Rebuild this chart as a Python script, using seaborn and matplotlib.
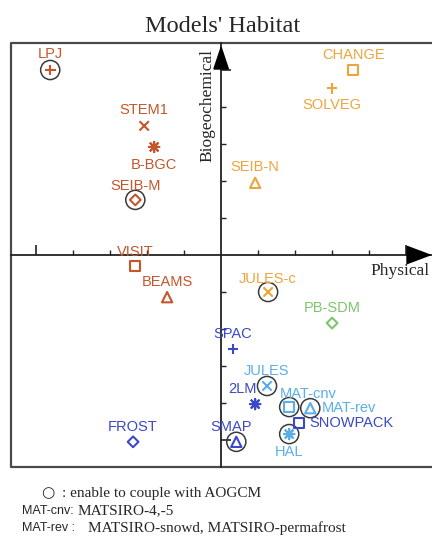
import pandas as pd
import matplotlib
matplotlib.use("Agg")
import matplotlib.pyplot as plt
import seaborn as sns

# model positions on the habitat map (physical vs biogeochemical)
models = ["LPJ", "STEM1", "B-BGC", "SEIB-M", "VISIT", "BEAMS",
          "CHANGE", "SOLVEG", "SEIB-N", "JULES-c", "PB-SDM",
          "SPAC", "JULES", "2LM", "MAT-cnv", "MAT-rev", "SNOWPACK",
          "HAL", "SMAP", "FROST"]
physical = [-4.62, -2.08, -1.81, -2.32, -2.32, -1.46,
            3.57, 3.00, 0.92, 1.27, 3.00,
            0.32, 1.24, 0.92, 1.84, 2.41, 2.11,
            1.84, 0.41, -2.38]
biogeochemical = [5.00, 3.49, 2.92, 1.49, -0.30, -1.14,
                  5.00, 4.51, 1.95, -1.00, -1.84,
                  -2.54, -3.54, -4.03, -4.11, -4.14, -4.54,
                  -4.84, -5.05, -5.05]
group = ["veg", "veg", "veg", "veg", "veg", "veg",
         "flux", "flux", "flux", "flux", "snowdm",
         "land", "lsm", "land", "lsm", "lsm", "land",
         "lsm", "land", "land"]
symbol = ["plus", "x", "star", "diamond", "square", "triangle",
          "square", "plus", "triangle", "x", "diamond",
          "plus", "x", "star", "square", "triangle", "square",
          "star", "triangle", "diamond"]
coupled = [True, False, False, True, False, False,
           False, False, False, True, False,
           False, True, False, True, True, False,
           True, True, False]

# footnote lines: sans key, serif text
note_keys = ["MAT-cnv:", "MAT-rev :"]
note_texts = ["MATSIRO-4,-5", "MATSIRO-snowd, MATSIRO-permafrost"]

df = pd.DataFrame({"model": models, "physical": physical,
                   "biogeochemical": biogeochemical, "group": group,
                   "symbol": symbol, "coupled": coupled})

palette = {"veg": "#C4562B", "flux": "#EEA43A", "snowdm": "#7CC66C",
           "land": "#3B49C6", "lsm": "#5AAFE8"}
marker_map = {"plus": "+", "x": "x", "star": (8, 2, 0), "diamond": "D",
              "square": "s", "triangle": "^"}
marker_size = {"plus": 60, "x": 45, "star": 55, "diamond": 30,
               "square": 50, "triangle": 55}
open_shapes = ["diamond", "square", "triangle"]

# label offsets in points (dx, dy, ha)
label_pos = {"B-BGC": (0, -13, "center"), "SOLVEG": (0, -12, "center"),
             "HAL": (0, -13, "center"), "LPJ": (0, 11.5, "center"),
             "STEM1": (0, 11.5, "center"), "SEIB-M": (0, 10, "center"),
             "VISIT": (0, 10, "center"), "JULES-c": (0, 9, "center"),
             "SEIB-N": (0, 11.5, "center"), "2LM": (-9, 11, "center"),
             "MAT-cnv": (14, 9.5, "center"), "MAT-rev": (8, 0, "left"),
             "SNOWPACK": (7, 0, "left"), "SMAP": (-3.5, 11, "center")}

sns.set_theme(style="white")
plt.rcParams["font.family"] = ["Liberation Sans", "DejaVu Sans"]

fig = plt.figure(figsize=(4.32, 5.36), dpi=100)
ax = fig.add_axes([11 / 432, 69 / 536, 421 / 432, 424 / 536])
ax.set_xlim(-5.68, 5.70)
ax.set_ylim(-5.73, 5.73)

# circles for models that can couple with AOGCM
sns.scatterplot(data=df[df["coupled"]], x="physical", y="biogeochemical",
                marker="o", s=190, color="#333333", linewidth=1.1,
                legend=False, ax=ax, zorder=3)
ring = ax.collections[-1]
ring.set_facecolors("none")
ring.set_edgecolors("#3a3a3a")

for sym, sub in df.groupby("symbol"):
    sns.scatterplot(data=sub, x="physical", y="biogeochemical", hue="group",
                    palette=palette, marker=marker_map[sym],
                    s=marker_size[sym], linewidth=1.5, legend=False,
                    ax=ax, zorder=4)
    coll = ax.collections[-1]
    if sym in open_shapes:
        fc = coll.get_facecolors()
        coll.set_edgecolors(fc)
        coll.set_facecolors("none")

for _, r in df.iterrows():
    dx, dy, ha = label_pos.get(r["model"], (0, 11, "center"))
    ax.annotate(r["model"], (r["physical"], r["biogeochemical"]),
                xytext=(dx, dy), textcoords="offset points", ha=ha,
                va="center", fontsize=10.5, color=palette[r["group"]],
                zorder=5)

# cross axes through origin
for s in ["top", "right"]:
    ax.spines[s].set_visible(False)
ax.spines["left"].set_position(("data", 0))
ax.spines["bottom"].set_position(("data", 0))
for s in ["left", "bottom"]:
    ax.spines[s].set_color("#222222")
    ax.spines[s].set_linewidth(1.3)
ax.set_xticks([-5, 5])
ax.set_yticks([-5, 5])
ax.set_xticks([-4, -3, -2, -1, 1, 2, 3, 4], minor=True)
ax.set_yticks([-4, -3, -2, -1, 1, 2, 3, 4], minor=True)
ax.tick_params(which="both", direction="in", labelbottom=False,
               labelleft=False, color="#222222", bottom=True, left=True)
ax.tick_params(which="major", length=7, width=1.2)
ax.tick_params(which="minor", length=3.5, width=1.0)
ax.set_xlabel("")
ax.set_ylabel("")

# outer frame (right edge is cut off)
ax.plot([1, 0, 0, 1], [1, 1, 0, 0], transform=ax.transAxes, color="#4a4a4a",
        lw=1.6, clip_on=False, zorder=1)

# arrow heads
ax.annotate("", xy=(1.0, 0), xycoords=("axes fraction", "data"),
            xytext=(-23, 0), textcoords="offset pixels",
            arrowprops=dict(arrowstyle="-|>,head_length=1.6,head_width=0.6",
                            color="black", lw=1.3, shrinkA=0, shrinkB=0,
                            mutation_scale=10))
ax.annotate("", xy=(0, 0.995), xycoords=("data", "axes fraction"),
            xytext=(0, -21), textcoords="offset pixels",
            arrowprops=dict(arrowstyle="-|>,head_length=1.5,head_width=0.5",
                            color="black", lw=1.3, shrinkA=0, shrinkB=0,
                            mutation_scale=10))

serif = ["Liberation Serif", "DejaVu Serif"]
fig.text(222.5 / 432, 1 - 26 / 536, "Models' Habitat", family=serif,
         fontsize=17.5, ha="center", va="center")
fig.text(207 / 432, 1 - 105 / 536, "Biogeochemical", family=serif,
         fontsize=12.5, rotation=90, ha="center", va="center")
fig.text(430 / 432, 1 - 271 / 536, "Physical", family=serif,
         fontsize=12.5, ha="right", va="center")

# footnotes
fig.text(48 / 432, 1 - 493 / 536, "\u25cb", family="DejaVu Sans",
         fontsize=11, ha="center", va="center")
fig.text(62 / 432, 1 - 493 / 536, ": enable to couple with AOGCM",
         family=serif, fontsize=11, ha="left", va="center")
for i, (k, t) in enumerate(zip(note_keys, note_texts)):
    key = fig.text(22 / 432, 1 - (511 + 17 * i) / 536, k, fontsize=9,
                   ha="left", va="center")
    ax.annotate(t, xy=(1, 0.5), xycoords=key, xytext=(3 + 6 * i, 0),
                textcoords="offset points", family=serif, fontsize=11,
                ha="left", va="center", annotation_clip=False)

fig.savefig("out.png", dpi=100)
